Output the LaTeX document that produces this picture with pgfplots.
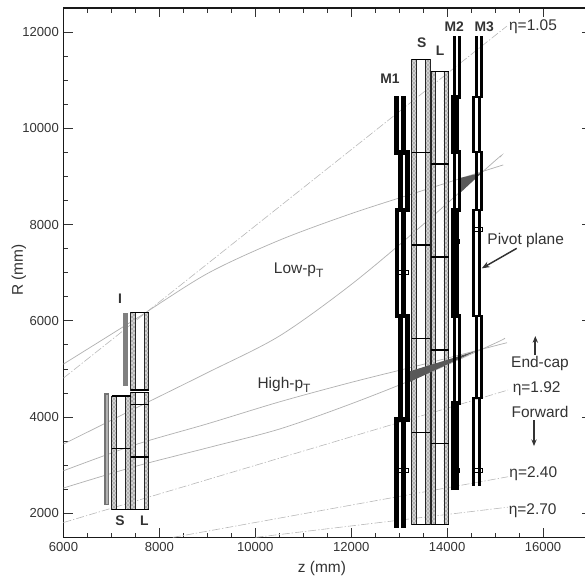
\documentclass[border=0pt]{standalone}
\usepackage{fontspec}
\setmainfont{Liberation Sans}
\usepackage{pgfplots}
\pgfplotsset{compat=1.18}
\usetikzlibrary{patterns,arrows.meta}
\definecolor{txt}{gray}{0.2}
\newcommand{\seg}[5]{\addplot[black,line width=#1,line join=miter] coordinates {(#2,#4)(#2,#5)(#3,#5)(#3,#4)} -- cycle;}
\newcommand{\opn}[5]{\addplot[black,line width=#1,line join=miter] coordinates {(#2,#4)(#2,#5)(#3,#5)(#3,#4)};}
\newcommand{\hln}[4][0.9pt]{\addplot[black,line width=#1] coordinates {(#2,#4)(#3,#4)};}
\newcommand{\strip}[4]{\addplot[draw=black!85,line width=0.7pt,fill=black!18,postaction={pattern=crosshatch dots,pattern color=black!75}] coordinates {(#1,#3)(#1,#4)(#2,#4)(#2,#3)} -- cycle;}
\newcommand{\pbox}[4]{\addplot[draw=black,fill=white,line width=0.6pt] coordinates {(#1,#3)(#1,#4)(#2,#4)(#2,#3)} -- cycle;}
\begin{document}
\begin{tikzpicture}
\useasboundingbox (-47.625pt,-32.7pt) rectangle (391.125pt,403.05pt);
\begin{axis}[
  scale only axis, width=395.6pt, height=397.05pt,
  xmin=6000, xmax=17000, ymin=1500, ymax=12500,
  xtick={6000,8000,...,16000}, ytick={2000,4000,...,12000},
  minor tick num=3,
  scaled ticks=false,
  tick align=inside, tick pos=both,
  major tick length=6.8pt, minor tick length=3.4pt,
  axis line style={line width=0.8pt,black!90},
  every tick/.style={line width=0.6pt,black!80},
  tick label style={font=\fontsize{9.8}{12}\selectfont,text=txt},
  /pgf/number format/assume math mode=true,
  /pgf/number format/1000 sep={},
  /pgf/number format/fixed,
  xtick pos=both, ytick pos=both,
  xticklabel pos=bottom, yticklabel pos=left,
  xlabel={z (mm)}, ylabel={R (mm)},
  label style={font=\fontsize{11.6}{13}\selectfont,text=txt},
  xlabel style={at={(axis description cs:0.49,-0.058)},anchor=center},
  ylabel style={at={(axis description cs:-0.0844,0.505)},anchor=center},
  no marks, clip=true,
]
% trajectories
\addplot[black!30,line width=0.55pt,smooth] coordinates {(6000,5102)(7500,6035)(9000,6982)(10500,7674)(12000,8227)(13500,8710)(15000,9186)(15166,9237)};
\addplot[black!30,line width=0.55pt,smooth] coordinates {(6000,3440)(7500,4183)(9000,4922)(10500,5683)(12000,6754)(13500,8002)(15000,9326)(15103,9403)};
\addplot[black!30,line width=0.55pt,smooth] coordinates {(6000,2885)(7500,3427)(9000,3860)(10500,4315)(12000,4721)(13500,5095)(15000,5482)(15249,5545)};
\addplot[black!30,line width=0.55pt,smooth] coordinates {(6000,2526)(7500,2976)(9000,3360)(10500,3750)(12000,4276)(13500,4868)(15000,5534)(15207,5642)};
% eta lines
\addplot[black!28,line width=0.45pt,dash pattern=on 6pt off 1.5pt on 1pt off 1.5pt] coordinates {(6000,4811)(15249,12125)};
\addplot[black!28,line width=0.45pt,dash pattern=on 6pt off 1.5pt on 1pt off 1.5pt] coordinates {(6000,1809)(15270,4562)};
\addplot[black!28,line width=0.45pt,dash pattern=on 6pt off 1.5pt on 1pt off 1.5pt] coordinates {(8280,1500)(15270,2760)};
\addplot[black!28,line width=0.45pt,dash pattern=on 6pt off 1.5pt on 1pt off 1.5pt] coordinates {(10000,1500)(15270,2128)};
% forward gray
\addplot[draw=black!55,fill=black!30,line width=0.8pt] coordinates {(6865,2193)(6865,4479)(6943,4479)(6943,2193)} -- cycle;
\addplot[draw=none,fill=black!50] coordinates {(7235,4645)(7235,6155)(7339,6155)(7339,4645)} -- cycle;
% forward S
\strip{7005}{7101}{2083}{4437}
\strip{7297}{7401}{2083}{4437}
\hln[1.1pt]{7005}{7401}{3350}
% forward L
\strip{7401}{7497}{4562}{6176}
\strip{7679}{7777}{4562}{6176}
\strip{7401}{7497}{2083}{4514}
\strip{7679}{7777}{2083}{4514}
\hln{7401}{7777}{6176}
\hln[1.1pt]{7401}{7777}{4562}
\hln{7401}{7777}{4514}
\hln{7401}{7777}{4264}
\hln[1.2pt]{7401}{7777}{3176}
\hln{7401}{7777}{2083}
\hln{7005}{7401}{2083}
\hln[0.9pt]{7005}{7401}{4437}
% big S
\strip{13262}{13366}{1763}{11433}
\strip{13539}{13643}{1763}{11433}
\hln{13262}{13643}{11433}
\hln{13262}{13643}{1763}
\hln{13262}{13643}{9500}
\hln{13262}{13643}{7574}
\hln{13262}{13643}{5636}
\hln{13262}{13643}{3683}
% big L
\strip{13670}{13762}{1763}{11183}
\strip{13935}{14033}{1763}{11183}
\hln{13670}{14033}{11183}
\hln{13670}{14033}{1763}
\hln{13670}{14033}{9257}
\hln{13670}{14033}{7325}
\hln{13670}{14033}{5393}
\hln{13670}{14033}{3455}
% wedges
\addplot[draw=none,fill=black!65] coordinates {(14722,9077)(14269,8967)(14269,8655)} -- cycle;
\addplot[draw=none,fill=black!65] coordinates {(14617,5378)(13191,4942)(13226,4734)} -- cycle;
% small boxes M1
\pbox{12990}{13200}{6972}{7055}
\pbox{12990}{13200}{2858}{2935}
% M1
\opn{3.4pt}{12949}{13089}{10670}{9500}
\seg{3.3pt}{13024}{13174}{9500}{8300}
\seg{3.3pt}{12949}{13089}{8300}{6100}
\seg{3.3pt}{13024}{13174}{6100}{3950}
\opn{3.4pt}{12949}{13089}{1700}{3950}
% M2
\pbox{14090}{14260}{7600}{7689}
\pbox{14090}{14260}{2858}{2935}
\opn{2.3pt}{14150}{14252}{11917}{10650}
\seg{2.8pt}{14116}{14213}{10650}{9507}
\seg{2.4pt}{14150}{14252}{9507}{8302}
\seg{2.8pt}{14116}{14213}{8302}{6100}
\seg{2.4pt}{14150}{14252}{6100}{4292}
\opn{2.8pt}{14116}{14213}{2484}{4292}
% M3
\pbox{14570}{14730}{7851}{7934}
\pbox{14570}{14730}{2858}{2935}
\opn{2.2pt}{14617}{14713}{11917}{10650}
\seg{2.1pt}{14557}{14680}{10650}{9507}
\seg{2.1pt}{14617}{14713}{9507}{8302}
\seg{2.1pt}{14557}{14680}{8302}{6100}
\seg{2.1pt}{14617}{14713}{6100}{4396}
\opn{2.2pt}{14557}{14680}{2574}{4396}
% arrows
\addplot[black!80,line width=1.1pt,-{Stealth[length=6pt,width=4.5pt]}] coordinates {(15452,7506)(14722,7090)};
\addplot[black!80,line width=1.3pt,-{Stealth[length=5pt,width=4pt]}] coordinates {(15839,5289)(15839,5684)};
\addplot[black!80,line width=1.1pt,-{Stealth[length=5pt,width=4pt]}] coordinates {(15812,3939)(15812,3398)};
\end{axis}
\begin{scope}[x=0.75pt,y=-0.75pt,xshift=-47.625pt,yshift=403.05pt,
  lab/.style={font=\fontsize{11.6}{13}\selectfont,text=txt,inner sep=0pt,anchor=center},
  bld/.style={font=\fontsize{10.4}{13}\selectfont\bfseries,text=txt,inner sep=0pt,anchor=center}]
\node[bld] at (390,79) {M1};
\node[bld] at (421.7,43) {S};
\node[bld] at (440,50.7) {L};
\node[bld] at (454.3,26.7) {M2};
\node[bld] at (484.3,26.7) {M3};
\node[bld] at (120,298.3) {I};
\node[bld] at (120,520.7) {S};
\node[bld] at (144.3,520.7) {L};
\node[lab] at (533,26.7) {η=1.05};
\node[lab] at (525.7,240.7) {Pivot plane};
\node[lab] at (540,364) {End-cap};
\node[lab] at (536.7,389) {η=1.92};
\node[lab] at (540,411.7) {Forward};
\node[lab] at (533.3,474) {η=2.40};
\node[lab] at (532.7,510.7) {η=2.70};
\node[lab] at (298.7,270) {Low-p\raisebox{-0.45ex}{\fontsize{9}{10}\selectfont T}};
\node[lab] at (284,385) {High-p\raisebox{-0.45ex}{\fontsize{9}{10}\selectfont T}};
\end{scope}
\end{tikzpicture}
\end{document}
